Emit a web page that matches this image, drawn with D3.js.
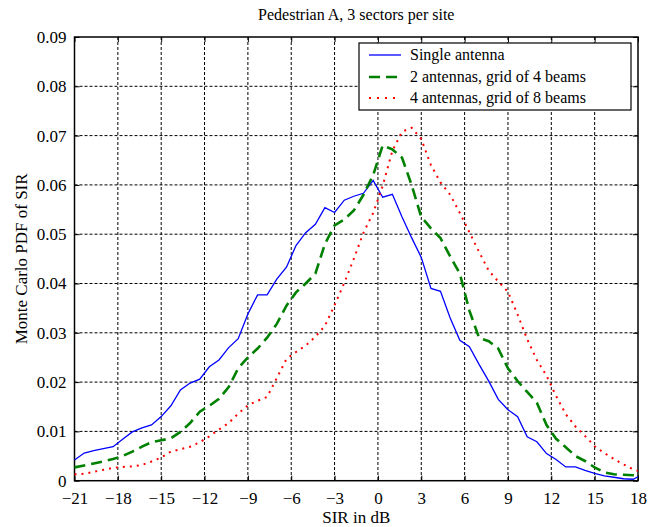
<!DOCTYPE html>
<html>
<head>
<meta charset="utf-8">
<script src="https://cdn.jsdelivr.net/npm/d3@7"></script>
<style>
  body { margin: 0; background: #fff; }
  svg text { font-family: "Liberation Serif", "Times New Roman", serif; fill: #000; }
</style>
</head>
<body>
<svg id="chart" width="661" height="527"></svg>
<script>
// SIR bins (dB)
var sirDb = [-21, -20.33, -19.67, -19, -18.33, -17.67, -17, -16.33, -15.67, -15,
  -14.33, -13.67, -13, -12.33, -11.67, -11, -10.33, -9.67, -9, -8.33,
  -7.67, -7, -6.33, -5.67, -5, -4.33, -3.67, -3, -2.33, -1.67,
  -1, -0.33, 0.33, 1, 1.67, 2.33, 3, 3.67, 4.33, 5,
  5.67, 6.33, 7, 7.67, 8.33, 9, 9.67, 10.33, 11, 11.67,
  12.33, 13, 13.67, 14.33, 15, 15.67, 16.33, 17, 17.67, 18];

var singleAntenna = [0.0042, 0.0056, 0.0061, 0.0065, 0.0069, 0.0084, 0.0099, 0.0107, 0.0113, 0.0130,
  0.0152, 0.0184, 0.0198, 0.0206, 0.0231, 0.0245, 0.0270, 0.0288, 0.0338, 0.0377,
  0.0377, 0.0409, 0.0433, 0.0477, 0.0503, 0.0520, 0.0554, 0.0544, 0.0569, 0.0577,
  0.0583, 0.0609, 0.0575, 0.0581, 0.0535, 0.0493, 0.0453, 0.0390, 0.0384, 0.0330,
  0.0285, 0.0272, 0.0236, 0.0202, 0.0165, 0.0144, 0.0130, 0.0089, 0.0079, 0.0055,
  0.0043, 0.0028, 0.0028, 0.0021, 0.0015, 0.0010, 0.0007, 0.0004, 0.0003, 0.0008];

var grid4Beams = [0.0027, 0.0031, 0.0035, 0.0039, 0.0044, 0.0050, 0.0059, 0.0069, 0.0078, 0.0082,
  0.0086, 0.0099, 0.0117, 0.0140, 0.0152, 0.0166, 0.0190, 0.0228, 0.0250, 0.0268,
  0.0290, 0.0318, 0.0355, 0.0382, 0.0400, 0.0420, 0.0480, 0.0518, 0.0530, 0.0548,
  0.0580, 0.0620, 0.0680, 0.0672, 0.0655, 0.0600, 0.0535, 0.0512, 0.0492, 0.0455,
  0.0420, 0.0345, 0.0290, 0.0283, 0.0268, 0.0228, 0.0202, 0.0180, 0.0158, 0.0113,
  0.0085, 0.0068, 0.0050, 0.0040, 0.0027, 0.0017, 0.0013, 0.0012, 0.0011, 0.0010];

var grid8Beams = [0.0013, 0.0014, 0.0018, 0.0022, 0.0026, 0.0028, 0.0029, 0.0032, 0.0039, 0.0047,
  0.0059, 0.0064, 0.0069, 0.0078, 0.0090, 0.0104, 0.0117, 0.0136, 0.0153, 0.0162,
  0.0170, 0.0208, 0.0247, 0.0261, 0.0274, 0.0292, 0.0314, 0.0356, 0.0401, 0.0450,
  0.0503, 0.0543, 0.0598, 0.0669, 0.0708, 0.0716, 0.0693, 0.0640, 0.0605, 0.0580,
  0.0543, 0.0504, 0.0464, 0.0426, 0.0404, 0.0383, 0.0337, 0.0287, 0.0245, 0.0213,
  0.0172, 0.0135, 0.0110, 0.0091, 0.0070, 0.0056, 0.0044, 0.0033, 0.0023, 0.0020];

var xTicks = [-21, -18, -15, -12, -9, -6, -3, 0, 3, 6, 9, 12, 15, 18];
var yTicks = [0, 0.01, 0.02, 0.03, 0.04, 0.05, 0.06, 0.07, 0.08, 0.09];

var seriesNames = ["Single antenna", "2 antennas, grid of 4 beams", "4 antennas, grid of 8 beams"];

var svg = d3.select("#chart");
var plotL = 74.5, plotR = 638, plotT = 37, plotB = 480.7;
var serif = "'Liberation Serif', 'Times New Roman', serif";

var x = d3.scaleLinear().domain([-21, 18]).range([plotL, plotR]);
var y = d3.scaleLinear().domain([0, 0.09]).range([plotB, plotT]);

// title
svg.append("text")
  .attr("x", (plotL + plotR) / 2).attr("y", 20)
  .attr("text-anchor", "middle").style("font-size", "16px")
  .text("Pedestrian A, 3 sectors per site");

// grid lines (dotted, like matlab)
var grid = svg.append("g");
grid.selectAll(".vg").data(xTicks.slice(1, -1)).enter().append("line")
  .attr("x1", d => x(d)).attr("x2", d => x(d))
  .attr("y1", plotT).attr("y2", plotB)
  .attr("stroke", "#000").attr("stroke-width", 1).attr("stroke-dasharray", "3,2");
grid.selectAll(".hg").data(yTicks.slice(1, -1)).enter().append("line")
  .attr("y1", d => y(d)).attr("y2", d => y(d))
  .attr("x1", plotL).attr("x2", plotR)
  .attr("stroke", "#000").attr("stroke-width", 1).attr("stroke-dasharray", "3,2");

// axes, ticks inside
svg.append("g").attr("transform", "translate(0," + plotB + ")")
  .call(d3.axisBottom(x).tickValues(xTicks).tickSizeInner(-5).tickSizeOuter(0).tickPadding(11))
  .attr("font-family", serif).attr("font-size", 17);
svg.append("g").attr("transform", "translate(" + plotL + ",0)")
  .call(d3.axisLeft(y).tickValues(yTicks).tickSizeInner(-5).tickSizeOuter(0).tickPadding(8)
    .tickFormat(d => d === 0 ? "0" : d3.format(".2f")(d)))
  .attr("font-family", serif).attr("font-size", 17);
svg.append("g").attr("transform", "translate(" + plotR + ",0)")
  .call(d3.axisRight(y).tickValues(yTicks).tickSizeInner(-5).tickSizeOuter(0).tickFormat(""));
svg.append("g").attr("transform", "translate(0," + plotT + ")")
  .call(d3.axisTop(x).tickValues(xTicks).tickSizeInner(-5).tickSizeOuter(0).tickFormat(""));
svg.selectAll(".domain").remove();
svg.selectAll(".tick line").attr("stroke", "#000");

// frame
svg.append("rect")
  .attr("x", plotL).attr("y", plotT)
  .attr("width", plotR - plotL).attr("height", plotB - plotT)
  .attr("fill", "none").attr("stroke", "#000").attr("stroke-width", 1.5);

// axis labels
svg.append("text")
  .attr("x", (plotL + plotR) / 2).attr("y", 523)
  .attr("text-anchor", "middle").style("font-size", "17px")
  .text("SIR in dB");
svg.append("text")
  .attr("transform", "translate(27," + ((plotT + plotB) / 2) + ") rotate(-90)")
  .attr("text-anchor", "middle").style("font-size", "17px")
  .text("Monte Carlo PDF of SIR");

// curves
var styles = [
  { data: singleAntenna, color: "#0000ff", width: 1.3, dash: null },
  { data: grid4Beams, color: "#008000", width: 2.6, dash: "11,6" },
  { data: grid8Beams, color: "#ff0000", width: 2, dash: "2,5" }
];

var line = d3.line()
  .x((d, i) => x(sirDb[i]))
  .y(d => y(d));

styles.forEach(function (s) {
  svg.append("path")
    .datum(s.data)
    .attr("fill", "none")
    .attr("stroke", s.color)
    .attr("stroke-width", s.width)
    .attr("stroke-dasharray", s.dash)
    .attr("d", line);
});

// legend
var lg = svg.append("g");
lg.append("rect")
  .attr("x", 359).attr("y", 43).attr("width", 272).attr("height", 67)
  .attr("fill", "#fff").attr("stroke", "#000").attr("stroke-width", 1.2);
var rowsY = [55, 77, 98];
styles.forEach(function (s, i) {
  lg.append("line")
    .attr("x1", 369).attr("x2", 401)
    .attr("y1", rowsY[i]).attr("y2", rowsY[i])
    .attr("stroke", s.color).attr("stroke-width", s.width)
    .attr("stroke-dasharray", i === 2 ? "2,6" : s.dash);
  lg.append("text")
    .attr("x", 410).attr("y", rowsY[i] + 5)
    .style("font-size", "16px")
    .text(seriesNames[i]);
});
</script>
</body>
</html>
